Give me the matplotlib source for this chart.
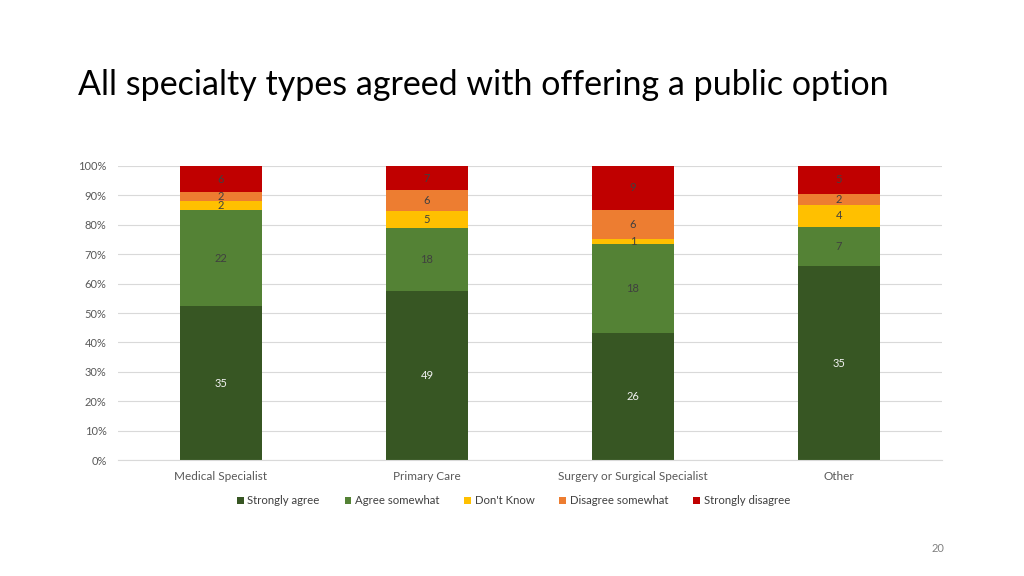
import numpy as np
import matplotlib.pyplot as plt

plt.rcParams['font.family'] = ['Lato', 'DejaVu Sans']

categories = ['Medical Specialist', 'Primary Care', 'Surgery or Surgical Specialist', 'Other']
series = ['Strongly agree', 'Agree somewhat', "Don't Know", 'Disagree somewhat', 'Strongly disagree']
strongly_agree = [35, 49, 26, 35]
agree_somewhat = [22, 18, 18, 7]
dont_know = [2, 5, 1, 4]
disagree_somewhat = [2, 6, 6, 2]
strongly_disagree = [6, 7, 9, 5]
colors = ['#375623', '#548235', '#FFC000', '#ED7D31', '#C00000']
label_colors = ['#F2F2F2', '#404040', '#404040', '#404040', '#404040']

counts = np.array([strongly_agree, agree_somewhat, dont_know,
                   disagree_somewhat, strongly_disagree], dtype=float)
totals = counts.sum(axis=0)
shares = counts / totals * 100

fig = plt.figure(figsize=(10.24, 5.76), dpi=100)
ax = fig.add_axes([0.115, 0.201, 0.805, 0.511])

x = np.arange(len(categories))
bottom = np.zeros(len(categories))
for i, name in enumerate(series):
    ax.bar(x, shares[i], 0.40, bottom=bottom, color=colors[i], label=name, zorder=2)
    for j in range(len(categories)):
        ax.text(x[j], bottom[j] + shares[i][j] / 2, str(int(counts[i][j])),
                ha='center', va='center', fontsize=8, color=label_colors[i], zorder=3)
    bottom += shares[i]

ax.set_xlim(-0.5, 3.5)
ax.set_ylim(0, 100)
ax.set_yticks(np.arange(0, 101, 10))
ax.set_yticklabels([f'{v}%' for v in range(0, 101, 10)])
ax.set_xticks(x)
ax.set_xticklabels(categories)
ax.tick_params(axis='both', length=0, labelsize=8, colors='#595959')
ax.tick_params(axis='x', pad=8, labelsize=8.5)
ax.tick_params(axis='y', pad=8)
ax.grid(axis='y', color='#D9D9D9', linewidth=0.8, zorder=0)
for s in ['top', 'right', 'left']:
    ax.spines[s].set_visible(False)
ax.spines['bottom'].set_color('#D9D9D9')

ax.legend(loc='upper center', bbox_to_anchor=(0.48, -0.085), ncol=5, frameon=False,
          fontsize=8.2, handlelength=0.6, handleheight=0.6, handletextpad=0.3,
          columnspacing=2.2, labelcolor='#404040')

fig.text(0.076, 0.852, 'All specialty types agreed with offering a public option',
         fontsize=24.5, color='#000000', va='center', ha='left')
fig.text(0.916, 0.047, '20', fontsize=8, color='#808080', ha='center', va='center')

fig.savefig('out.png', dpi=100, facecolor='white')
